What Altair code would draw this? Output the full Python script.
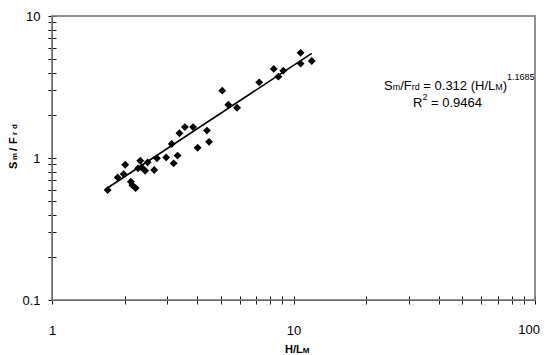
import altair as alt
import pandas as pd

# ---- data ----
hl = [1.70, 1.87, 1.98, 2.01, 2.12, 2.15, 2.22, 2.27, 2.32, 2.35, 2.43, 2.49,
      2.65, 2.72, 2.97, 3.13, 3.19, 3.31, 3.37, 3.55, 3.84, 4.01, 4.38, 4.47,
      5.07, 5.37, 5.84, 7.21, 8.28, 8.66, 9.07, 10.7, 10.7, 11.9]
sm = [0.594, 0.730, 0.770, 0.897, 0.680, 0.644, 0.614, 0.845, 0.957, 0.859,
      0.814, 0.932, 0.823, 0.995, 1.01, 1.256, 0.917, 1.04, 1.494, 1.65, 1.65,
      1.18, 1.56, 1.30, 2.98, 2.37, 2.26, 3.41, 4.24, 3.74, 4.12, 5.50, 4.62, 4.82]
fit_x = [1.66, 11.9]
fit_y = [0.60, 5.46]

x_ticks = [1, 2, 3, 4, 5, 6, 7, 8, 9, 10, 20, 30, 40, 50, 60, 70, 80, 90, 100]
y_ticks = [0.1, 0.2, 0.3, 0.4, 0.5, 0.6, 0.7, 0.8, 0.9, 1, 2, 3, 4, 5, 6, 7, 8, 9, 10]
x_major = [1, 10]          # "100" is written at the right edge separately
x_last = "100"
y_major = [0.1, 1, 10]

W, H = 483, 284
FONT = "Liberation Sans"
INK = "#111111"
FRAME = "#8a8a8a"

pts = pd.DataFrame({"x": hl, "y": sm})
fit = pd.DataFrame({"x": fit_x, "y": fit_y})


def xs():
    return alt.Scale(type="log", domain=[1, 100], nice=False)


def ys():
    return alt.Scale(type="log", domain=[0.1, 10], nice=False)


def lab_expr(major):
    return "indexof(" + str(major) + ", datum.value) >= 0 ? format(datum.value, '~g') : ''"


common = dict(title=None, grid=False, ticks=True, tickSize=4, tickWidth=1,
              tickOpacity=1, tickColor=INK)

x_axis = alt.Axis(values=x_ticks, labelExpr=lab_expr(x_major), domain=True,
                  domainColor=INK, domainWidth=1, domainOpacity=1, labelFont=FONT,
                  labelFontSize=13, labelColor="black", labelPadding=20,
                  labelOverlap=False, labelFlush=False, orient="bottom", **common)
y_axis = alt.Axis(values=y_ticks, labelExpr=lab_expr(y_major), domain=True,
                  domainColor=INK, domainWidth=1, domainOpacity=1, labelFont=FONT,
                  labelFontSize=13, labelColor="black", labelPadding=8,
                  labelOverlap=False, labelFlush=False, orient="left", **common)
# inner halves of the crossing tick marks
x_in = alt.Axis(values=x_ticks, labels=False, domain=False, offset=-4,
                orient="bottom", **common)
y_in = alt.Axis(values=y_ticks, labels=False, domain=False, offset=-4,
                orient="left", **common)

points = alt.Chart(pts).mark_point(shape="diamond", filled=True, size=62,
                                   color="black", opacity=1).encode(
    x=alt.X("x:Q", scale=xs(), axis=x_axis),
    y=alt.Y("y:Q", scale=ys(), axis=y_axis),
)

line = alt.Chart(fit).mark_line(color="black", strokeWidth=1.6).encode(
    x=alt.X("x:Q", scale=xs(), axis=x_in),
    y=alt.Y("y:Q", scale=ys(), axis=y_in),
)

# grey frame of the plot box, drawn as an unfilled rectangle on top
box = pd.DataFrame({"k": [0]})
frame = alt.Chart(box).mark_rect(fill=None, fillOpacity=0, stroke=FRAME,
                                 strokeWidth=1.5, strokeOpacity=1).encode(
    x=alt.value(0), x2=alt.value(W), y=alt.value(0), y2=alt.value(H))

# ---- text helpers (Arial / Liberation Sans advance widths per 1000 em) ----
REG = {"S": 667, "m": 833, "/": 278, "F": 611, "r": 333, "d": 556, " ": 278,
       "=": 584, ".": 278, "(": 333, ")": 333, "H": 722, "L": 556, "M": 833, "R": 722}
BOLD = {"S": 667, "m": 889, "/": 278, "F": 611, "r": 389, "d": 611, "H": 722,
        "L": 611, "M": 833}


def width(s, size, bold=False):
    tab = BOLD if bold else REG
    return sum(tab.get(c, 556) for c in s) * size / 1000.0


def seg(text, x, y, size, bold=False, angle=0):
    kw = dict(align="left", baseline="alphabetic", font=FONT, fontSize=size,
              color="black", fontWeight="bold" if bold else "normal")
    if angle:
        kw["angle"] = angle
    return alt.Chart(pd.DataFrame({"t": [text]})).mark_text(**kw).encode(
        text="t:N", x=alt.value(x), y=alt.value(y))


def run(parts, x0, y0, bold=False):
    out = []
    x = x0
    for text, size, dy in parts:
        core = text.lstrip(" ")
        lead = width(text[:len(text) - len(core)], size, bold)
        out.append(seg(core, x + lead, y0 + dy, size, bold))
        x += width(text, size, bold)
    return out


eq1 = [("S", 13, 0), ("m", 9, 0), ("/F", 13, 0), ("rd", 9, 0),
       (" = 0.312 (H/L", 13, 0), ("M", 9, 0), (")", 13, 0), ("1.1685", 9, -10)]
eq2 = [("R", 13, 0), ("2", 9, -7), (" = 0.9464", 13, 0)]

texts = run(eq1, 332, 74) + run(eq2, 361, 91)
texts += run([("H/L", 11, 0), ("M", 8, 0)], 233, 337, bold=True)
# last x tick label, kept inside the page edge
texts.append(seg(x_last, W + 5 - width(x_last, 13), 318, 13))

# rotated y title, read bottom-to-top
ytitle = [("S", 11, 153), ("m", 8, 144), ("/", 11, 135), ("F", 11, 128),
          ("r", 8, 119), ("d", 8, 113)]
for t, size, y in ytitle:
    texts.append(seg(t, -35, y, size, bold=True, angle=270))

chart = alt.layer(line, points, *texts, frame).resolve_scale(
    x="independent", y="independent"
).properties(
    width=W, height=H,
    autosize=alt.AutoSizeParams(type="none"),
    padding={"left": 44, "top": 8, "right": 5, "bottom": 55},
    background="white",
).configure_view(stroke=FRAME, strokeWidth=1.5)

chart.save("out.html", embed_options={"renderer": "svg", "actions": False})
